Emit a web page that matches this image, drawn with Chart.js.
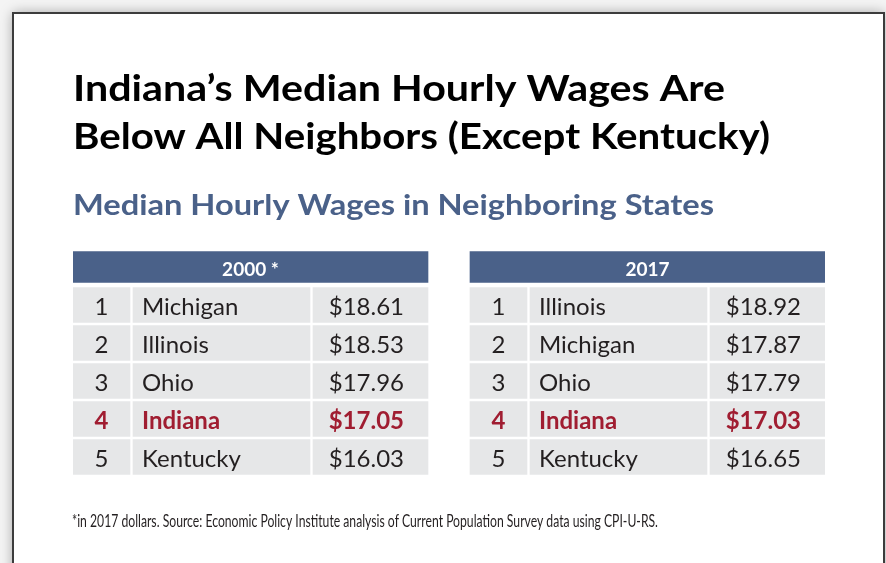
<!DOCTYPE html>
<html>
<head>
<meta charset="utf-8">
<script src="https://cdn.jsdelivr.net/npm/chart.js@4.4.1/dist/chart.umd.min.js"></script>
<style>
  html, body { margin: 0; padding: 0; background: #ffffff; }
  #wrap { width: 886px; height: 563px; }
</style>
</head>
<body>
<div id="wrap"><canvas id="c" width="886" height="563"></canvas></div>
<script>
// ---------- DATA ----------
const titleLines = ["Indiana\u2019s Median Hourly Wages Are", "Below All Neighbors (Except Kentucky)"];
const subtitleText = "Median Hourly Wages in Neighboring States";
const tableYears = ["2000 *", "2017"];
const ranks = [1, 2, 3, 4, 5];
const states2000 = ["Michigan", "Illinois", "Ohio", "Indiana", "Kentucky"];
const wages2000 = [18.61, 18.53, 17.96, 17.05, 16.03];
const states2017 = ["Illinois", "Michigan", "Ohio", "Indiana", "Kentucky"];
const wages2017 = [18.92, 17.87, 17.79, 17.03, 16.65];
const highlightState = "Indiana";
const footnoteText = "*in 2017 dollars. Source: Economic Policy Institute analysis of Current Population Survey data using CPI-U-RS.";

// ---------- LAYOUT (column spans in x-scale units) ----------
const rowKeys = ["header", "r1", "r2", "r3", "r4", "r5"];
const tableSpans = [[0, 355], [397, 752]];
const colSpans = [ // rank, state, wage  (relative to table start)
  [0, 57], [60, 237], [240, 355]
];
const COLORS = {
  header: "#4a6189", cell: "#e6e7e8", text: "#231f20", red: "#a01d31", sub: "#4a6189"
};

function cellData(tableIdx, colIdx) {
  const off = tableSpans[tableIdx][0];
  return rowKeys.map((k, i) => i === 0 ? null : [off + colSpans[colIdx][0], off + colSpans[colIdx][1]]);
}
function headerData(tableIdx) {
  return rowKeys.map((k, i) => i === 0 ? tableSpans[tableIdx].slice() : null);
}

const datasets = [];
[0, 1].forEach(t => {
  datasets.push({ label: "hdr" + t, data: headerData(t), backgroundColor: COLORS.header, barThickness: 31, borderWidth: 0, grouped: false });
  [0, 1, 2].forEach(c => {
    datasets.push({ label: "c" + t + c, data: cellData(t, c), backgroundColor: COLORS.cell, barThickness: 35, borderWidth: 0, grouped: false });
  });
});

function drawFit(ctx, text, x, y, targetW) {
  const w = ctx.measureText(text).width;
  ctx.save();
  ctx.translate(x, y);
  ctx.scale(targetW / w, 1);
  ctx.fillText(text, 0, 0);
  ctx.restore();
}

const framePlugin = {
  id: "frame",
  beforeDraw(chart) {
    const ctx = chart.ctx;
    ctx.save();
    ctx.fillStyle = "#f4f4f4";
    ctx.fillRect(0, 0, 886, 563);
    ctx.shadowColor = "rgba(0,0,0,0.35)";
    ctx.shadowBlur = 12;
    ctx.fillStyle = "#ffffff";
    ctx.fillRect(13, 13, 871, 600);
    ctx.shadowBlur = 0;
    ctx.shadowColor = "transparent";
    ctx.strokeStyle = "#3c3c3c";
    ctx.lineWidth = 2;
    ctx.beginPath();
    ctx.moveTo(13, 600); ctx.lineTo(13, 13); ctx.lineTo(884, 13); ctx.lineTo(884, 600);
    ctx.stroke();
    ctx.restore();
  }
};

const textPlugin = {
  id: "tableText",
  afterDatasetsDraw(chart) {
    const ctx = chart.ctx;
    const xs = chart.scales.x, ys = chart.scales.y;
    const left = chart.chartArea.left;
    ctx.save();
    // title
    ctx.fillStyle = "#000000";
    ctx.textAlign = "left";
    ctx.textBaseline = "alphabetic";
    ctx.font = "bold 36px Lato";
    drawFit(ctx, titleLines[0], left, 101, 652);
    drawFit(ctx, titleLines[1], left, 149, 697);
    // subtitle
    ctx.fillStyle = COLORS.sub;
    ctx.font = "bold 28px Lato";
    drawFit(ctx, subtitleText, left, 215, 641);

    const tables = [[states2000, wages2000], [states2017, wages2017]];
    tables.forEach((tb, t) => {
      const off = tableSpans[t][0];
      // header
      const hy = ys.getPixelForValue(0);
      const hx = (xs.getPixelForValue(tableSpans[t][0]) + xs.getPixelForValue(tableSpans[t][1])) / 2;
      ctx.fillStyle = "#ffffff";
      ctx.font = "bold 19px Lato";
      ctx.textAlign = "center";
      ctx.fillText(tableYears[t], hx, hy + 8.5);
      ranks.forEach((r, i) => {
        const y = ys.getPixelForValue(i + 1) + 10;
        const hl = tb[0][i] === highlightState;
        ctx.fillStyle = hl ? COLORS.red : COLORS.text;
        ctx.font = (hl ? "bold " : "") + "24px Lato";
        ctx.textAlign = "center";
        ctx.fillText(String(r), (xs.getPixelForValue(off + colSpans[0][0]) + xs.getPixelForValue(off + colSpans[0][1])) / 2, y);
        ctx.textAlign = "left";
        ctx.fillText(tb[0][i], xs.getPixelForValue(off + colSpans[1][0]) + 9, y);
        ctx.textAlign = "right";
        ctx.fillText("$" + tb[1][i].toFixed(2), xs.getPixelForValue(off + colSpans[2][1]) - 24, y);
      });
    });
    // footnote
    ctx.fillStyle = "#231f20";
    ctx.textAlign = "left";
    ctx.font = "17px Lato";
    drawFit(ctx, footnoteText, 72, 527, 586);
    ctx.restore();
  }
};

new Chart(document.getElementById("c"), {
  type: "bar",
  data: { labels: rowKeys, datasets: datasets },
  options: {
    indexAxis: "y",
    responsive: false,
    animation: false,
    layout: { padding: { left: 73, right: 61, top: 248, bottom: 87 } },
    scales: {
      x: { type: "linear", min: 0, max: 752, display: false },
      y: { type: "category", display: false }
    },
    plugins: { legend: { display: false }, tooltip: { enabled: false }, title: { display: false } }
  },
  plugins: [framePlugin, textPlugin]
});
</script>
</body>
</html>
